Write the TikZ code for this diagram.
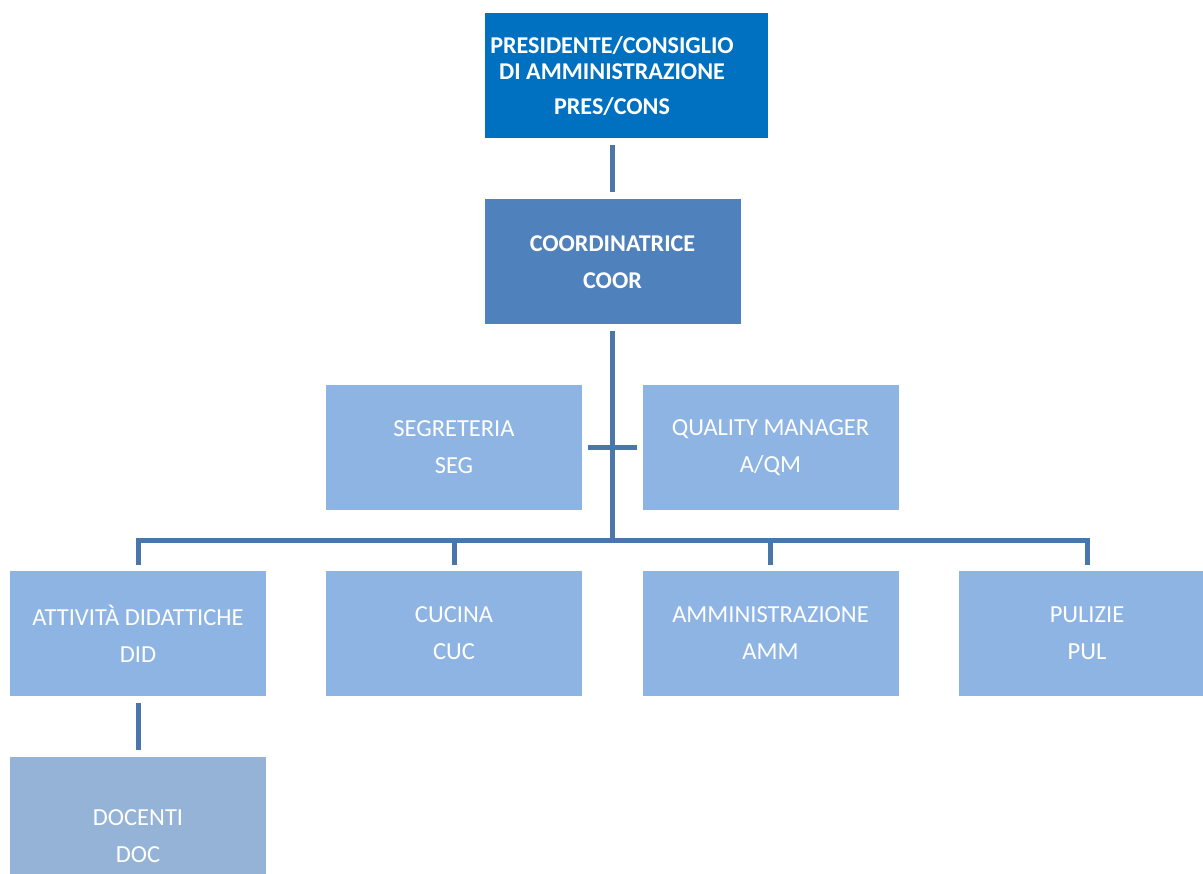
\documentclass[tikz,border=0pt]{standalone}
\usepackage{fontspec}
\setmainfont{Carlito}
\definecolor{presblue}{HTML}{0070C0}
\definecolor{coorblue}{HTML}{4F81BD}
\definecolor{unitblue}{HTML}{8EB4E3}
\definecolor{docblue}{HTML}{95B3D7}
\definecolor{linkblue}{HTML}{4A76AC}

\begin{document}
\begin{tikzpicture}[x=1pt,y=-1pt,
  unit/.style={fill=unitblue,text=white,minimum width=256pt,minimum height=125pt,
    inner sep=0pt,outer sep=0pt,align=center,font=\fontsize{24.5}{37}\selectfont},
  head/.style={unit,font=\fontsize{24.1}{37}\selectfont\bfseries},
  link/.style={draw=linkblue,line width=5pt}]
\useasboundingbox (0,0) rectangle (1203,874);

% top of the chart
\node[head,fill=presblue,minimum width=283pt] (pres) at (626.5,76)
  {\hspace*{-29pt}PRESIDENTE/CONSIGLIO\\[-11pt]\hspace*{-29pt}DI AMMINISTRAZIONE\\[-2pt]\hspace*{-29pt}PRES/CONS};
\node[head,fill=coorblue] (coor) at (612.5,262) {COORDINATRICE\\COOR};

% staff units
\node[unit] (seg) at (454,447.5) {SEGRETERIA\\SEG};
\node[unit] (qm) at (770.5,447.5) {QUALITY MANAGER\\A/QM};

% departments
\foreach \name/\x/\txt in {did/138/ATTIVITÀ DIDATTICHE\\DID,cuc/454/CUCINA\\CUC,
    amm/770.5/AMMINISTRAZIONE\\AMM,pul/1087/PULIZIE\\PUL}
  \node[unit] (\name) at (\x,633.5) {\txt};
\node[unit,fill=docblue] (doc) at (138,819.5) {~\\[12pt]DOCENTI\\DOC};

% connectors
\coordinate (bus) at (612.5,541);
\draw[link,shorten <=7pt,shorten >=7pt] (coor.north |- pres.south) -- (coor.north);
\draw[link,shorten <=7pt] (coor.south) -- (bus);
\draw[link,shorten <=6pt,shorten >=6pt] (seg.east) -- (qm.west);
\draw[link,shorten <=6pt,shorten >=6pt] (did.north) -- (did.north |- bus)
  -- (pul.north |- bus) -- (pul.north);
\foreach \name in {cuc,amm}
  \draw[link,shorten >=6pt] (\name.north |- bus) -- (\name.north);
\draw[link,shorten <=7pt,shorten >=7pt] (did.south) -- (doc.north);
\end{tikzpicture}
\end{document}
